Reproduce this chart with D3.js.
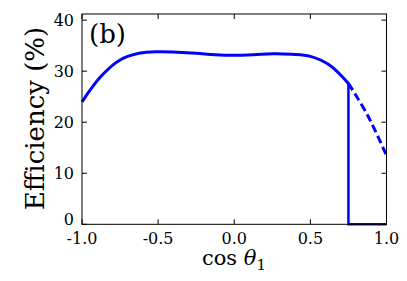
<!DOCTYPE html>
<html><head><meta charset="utf-8">
<script src="https://cdn.jsdelivr.net/npm/d3@7"></script>
<style>body{margin:0;background:#fff}svg{display:block}</style>
</head><body>
<svg id="c" width="407" height="281"></svg>
<script>
const solidX = [-1.0,-0.875,-0.75,-0.625,-0.5,-0.375,-0.25,-0.125,0.0,0.125,0.25,0.375,0.5,0.625,0.75];
const solidY = [24.0,29.0,32.2,33.5,33.8,33.7,33.5,33.2,33.1,33.2,33.4,33.3,32.9,31.2,27.6];
const dashX = [0.75,0.875,1.0];
const dashY = [27.6,21.4,13.5];
const cutX = [0.75,0.75,1.0];
const cutY = [27.6,0,0];
const xTicks = [-1.0,-0.5,0.0,0.5,1.0];
const yTicks = [0,10,20,30,40];

const svg = d3.select("#c");
const L=82,R=386.5,T=14,B=224.3;
const x = d3.scaleLinear().domain([-1,1]).range([L,R]);
const y = d3.scaleLinear().domain([0,41.2]).range([B,T]);
const font = "'DejaVu Serif', serif";

const line = d3.line().x(d=>x(d[0])).y(d=>y(d[1]));
const smooth = d3.line().x(d=>x(d[0])).y(d=>y(d[1])).curve(d3.curveCatmullRom.alpha(0.5));

// data
svg.append("path").attr("d", smooth(solidX.map((v,i)=>[v,solidY[i]])))
  .attr("fill","none").attr("stroke","#0000ff").attr("stroke-width",3);
svg.append("path").attr("d", smooth(dashX.map((v,i)=>[v,dashY[i]])))
  .attr("fill","none").attr("stroke","#0000ff").attr("stroke-width",3).attr("stroke-dasharray","8,4");
svg.append("path").attr("d", line(cutX.map((v,i)=>[v,cutY[i]])))
  .attr("fill","none").attr("stroke","#0000ff").attr("stroke-width",2.5);

// frame
svg.append("rect").attr("x",L).attr("y",T).attr("width",R-L).attr("height",B-T)
  .attr("fill","none").attr("stroke","#000").attr("stroke-width",1);

const tl=5;
const gx = svg.append("g");
xTicks.forEach(t=>{
  gx.append("line").attr("x1",x(t)).attr("x2",x(t)).attr("y1",B).attr("y2",B-tl).attr("stroke","#000");
  gx.append("line").attr("x1",x(t)).attr("x2",x(t)).attr("y1",T).attr("y2",T+tl).attr("stroke","#000");
  gx.append("text").attr("x",x(t)).attr("y",244).attr("text-anchor","middle")
    .style("font-family",font).style("font-size","16px").text(t.toFixed(1));
});
yTicks.forEach(t=>{
  gx.append("line").attr("x1",L).attr("x2",L+tl).attr("y1",y(t)).attr("y2",y(t)).attr("stroke","#000");
  gx.append("line").attr("x1",R).attr("x2",R-tl).attr("y1",y(t)).attr("y2",y(t)).attr("stroke","#000");
  gx.append("text").attr("x",74).attr("y",y(t)+(t===0?1:6)).attr("text-anchor","end")
    .style("font-family",font).style("font-size","16px").text(t);
});

svg.append("text").attr("x",89).attr("y",43).style("font-family",font).style("font-size","26px").text("(b)");

svg.append("text").attr("transform","translate(44,118.5) rotate(-90)").attr("text-anchor","middle")
  .style("font-family",font).style("font-size","26px").text("Efficiency (%)");

const xl = svg.append("text").attr("x",234).attr("y",265).attr("text-anchor","middle")
  .style("font-family",font).style("font-size","21px");
xl.append("tspan").text("cos ");
xl.append("tspan").style("font-style","italic").text("θ");
xl.append("tspan").attr("dy",5).style("font-size","15px").text("1");
</script>
</body></html>
